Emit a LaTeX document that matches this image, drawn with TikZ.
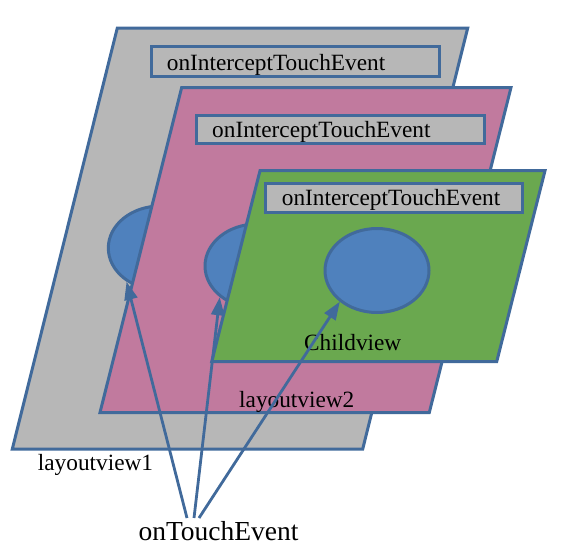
\documentclass[tikz,border=0pt]{standalone}
\usepackage{fontspec}
\setmainfont{Liberation Serif}
\usetikzlibrary{shapes.geometric,arrows.meta}
\definecolor{edge}{HTML}{416A9B}
\definecolor{panelgray}{HTML}{B7B7B7}
\definecolor{panelpink}{HTML}{C17A9E}
\definecolor{panelgreen}{HTML}{6AA84F}
\definecolor{blobblue}{HTML}{4F81BD}
\begin{document}
\begin{tikzpicture}[x=1pt,y=-1pt,
  panel/.style={draw=edge,line width=3pt,line join=miter},
  lbox/.style={draw=edge,line width=3pt,fill=panelgray,inner sep=0pt},
  txt/.style={font=\fontsize{23.3}{28}\selectfont,inner sep=0pt,anchor=base west},
  bigtxt/.style={font=\fontsize{27.5}{33}\selectfont,inner sep=0pt,anchor=base west},
  blob/.style={ellipse,draw=edge,line width=3pt,fill=blobblue,minimum width=104pt,minimum height=84pt,inner sep=0pt},
  arr/.style={draw=edge,line width=2.8pt,-{Triangle[length=18pt,width=13pt]}}]
\useasboundingbox (0,0) rectangle (564,552);
% layoutview1
\draw[panel,fill=panelgray] (117.3,28) -- (467.7,28) -- (362.7,449) -- (12.3,449) -- cycle;
\node[lbox,minimum width=288.3pt,minimum height=30pt] (b1) at (295.8,61.7) {};
\node[txt] (t1) at (166.7,70.7) {onInterceptTouchEvent};
\node[blob] (e1) at (160.3,248) {};
% layoutview2
\draw[panel,fill=panelpink] (181.7,87.5) -- (511,87.5) -- (429.3,412.5) -- (100,412.5) -- cycle;
\node[lbox,minimum width=288.3pt,minimum height=28.3pt] (b2) at (340.8,129.2) {};
\node[txt] (t2) at (212,137.3) {onInterceptTouchEvent};
\node[blob] (e2) at (257,266) {};
% childview
\draw[panel,fill=panelgreen] (260,170.7) -- (545,170.7) -- (496.7,361.7) -- (211.7,361.7) -- cycle;
\node[lbox,minimum width=256.7pt,minimum height=29pt] (b3) at (394.3,197.8) {};
\node[txt] (t3) at (281.7,205.7) {onInterceptTouchEvent};
\node[blob] (e3) at (377,270.5) {};
% labels
\node[txt] (lc) at (304,350) {Childview};
\node[txt] (l2) at (239,407.3) {layoutview2};
\node[txt] (l1) at (37.7,470) {layoutview1};
\node[bigtxt] (ote) at (138.3,540.7) {onTouchEvent};
% arrows
\coordinate (s1) at (187,518);
\coordinate (s2) at (194,518);
\coordinate (s3) at (199,518);
\draw[arr] (s1) -- (e1.225);
\draw[arr] (s2) -- (e2.220);
\draw[arr] (s3) -- (e3.220);
\end{tikzpicture}
\end{document}
